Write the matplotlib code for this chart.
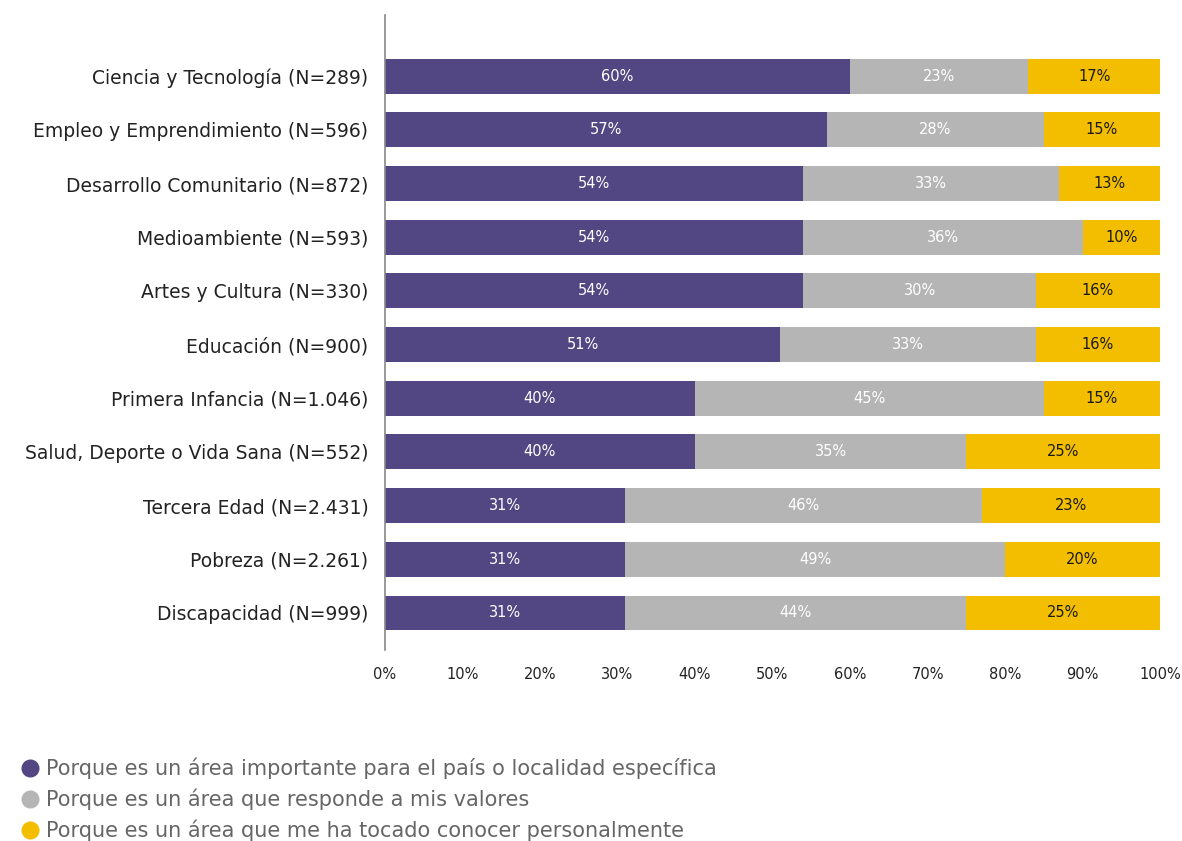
import matplotlib
matplotlib.use("Agg")
import matplotlib.pyplot as plt
from matplotlib.lines import Line2D

categories = [
    "Ciencia y Tecnología (N=289)",
    "Empleo y Emprendimiento (N=596)",
    "Desarrollo Comunitario (N=872)",
    "Medioambiente (N=593)",
    "Artes y Cultura (N=330)",
    "Educación (N=900)",
    "Primera Infancia (N=1.046)",
    "Salud, Deporte o Vida Sana (N=552)",
    "Tercera Edad (N=2.431)",
    "Pobreza (N=2.261)",
    "Discapacidad (N=999)",
]
importante = [60, 57, 54, 54, 54, 51, 40, 40, 31, 31, 31]
valores = [23, 28, 33, 36, 30, 33, 45, 35, 46, 49, 44]
personal = [17, 15, 13, 10, 16, 16, 15, 25, 23, 20, 25]
series_names = [
    "Porque es un área importante para el país o localidad específica",
    "Porque es un área que responde a mis valores",
    "Porque es un área que me ha tocado conocer personalmente",
]
colors = ["#524783", "#b5b5b5", "#f3be00"]
text_colors = ["white", "white", "#1a1a1a"]

plt.rcParams["font.family"] = ["DejaVu Sans"]

fig = plt.figure(figsize=(11.82, 8.41), dpi=100)
ax = fig.add_axes([0.3257, 0.2271, 0.6557, 0.7551])

y = list(range(len(categories)))
left = [0] * len(categories)
for vals, col, tcol in zip([importante, valores, personal], colors, text_colors):
    ax.barh(y, vals, left=left, height=0.65, color=col, edgecolor="none")
    for i, v in enumerate(vals):
        ax.text(left[i] + v / 2, i, f"{v}%", ha="center", va="center",
                color=tcol, fontsize=10.5)
    left = [l + v for l, v in zip(left, vals)]

ax.set_xlim(0, 100)
ax.set_ylim(10.69, -1.14)
ax.set_yticks(y)
ax.set_yticklabels(categories, fontsize=13.5, color="#222222")
ax.set_xticks(range(0, 101, 10))
ax.set_xticklabels([f"{t}%" for t in range(0, 101, 10)], fontsize=10.5, color="#222222")
ax.tick_params(axis="both", length=0)
ax.tick_params(axis="y", pad=12)
ax.tick_params(axis="x", pad=12)
for side in ["top", "right", "bottom"]:
    ax.spines[side].set_visible(False)
ax.spines["left"].set_color("#888888")
ax.spines["left"].set_linewidth(1.2)

handles = [Line2D([0], [0], marker="o", linestyle="none", markersize=13,
                  markerfacecolor=c, markeredgecolor="none") for c in colors]
fig.legend(handles, series_names, loc="upper left", bbox_to_anchor=(0.008, 0.109),
           frameon=False, fontsize=15, handletextpad=0.15, labelspacing=0.45,
           labelcolor="#666666", borderaxespad=0, handlelength=1.2)

fig.savefig("out.png", dpi=100)
